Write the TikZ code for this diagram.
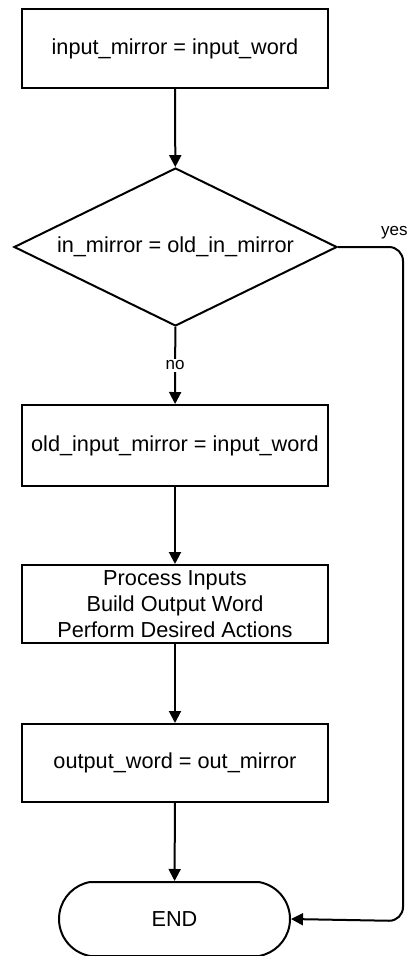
\documentclass[tikz,border=0pt]{standalone}
\usepackage{fontspec}
\setmainfont{Liberation Sans}
\usetikzlibrary{arrows.meta, shapes.geometric, shapes.misc}

\begin{document}
\begin{tikzpicture}[
    x=1pt, y=-1pt,
    every node/.style={font=\fontsize{21.7}{26}\selectfont},
    box/.style={draw, line width=2pt, minimum width=306pt, inner sep=0pt},
    decision/.style={draw, diamond, line width=2pt, aspect=2, inner sep=0pt,
        minimum width=323pt, minimum height=158pt},
    term/.style={draw, rounded rectangle, rounded rectangle arc length=160,
        line width=2pt, minimum width=231pt, minimum height=74pt, inner sep=0pt},
    flow/.style={line width=2pt, -{Triangle[length=12pt, width=12pt]}},
    lbl/.style={font=\fontsize{17}{20}\selectfont, inner sep=2pt},
]
\useasboundingbox (0,0) rectangle (407,956);

% Steps, top to bottom
\node[box, minimum height=79pt] (init) at (175,48.5) {input\_mirror = input\_word};
\node[decision] (test) at (175.5,247) {in\_mirror = old\_in\_mirror};
\node[box, minimum height=81pt] (upd) at (175,445.5) {old\_input\_mirror = input\_word};
\node[box, minimum height=78pt, align=center] (proc) at (175,604)
    {Process Inputs\\Build Output Word\\Perform Desired Actions};
\node[box, minimum height=78pt] (outw) at (175,763) {output\_word = out\_mirror};
\node[term] (fin) at (174.5,919) {END};

% Main flow
\draw[flow] (init) -- (test);
\draw[flow] (test) -- node[lbl, fill=white, midway] (nolbl) {no} (upd);
\draw[flow] (upd) -- (proc);
\draw[flow] (proc) -- (outw);
\draw[flow] (outw) -- (fin);

% "yes" branch down the right side
\coordinate (yesTop) at (403,247);
\coordinate (yesBot) at (403,921);
\node[lbl, anchor=west] (yeslbl) at (379,233) {yes};
\draw[flow, rounded corners=14pt] (test.east) -- (yesTop) -- (yesBot) -- (fin.east);
\end{tikzpicture}
\end{document}
